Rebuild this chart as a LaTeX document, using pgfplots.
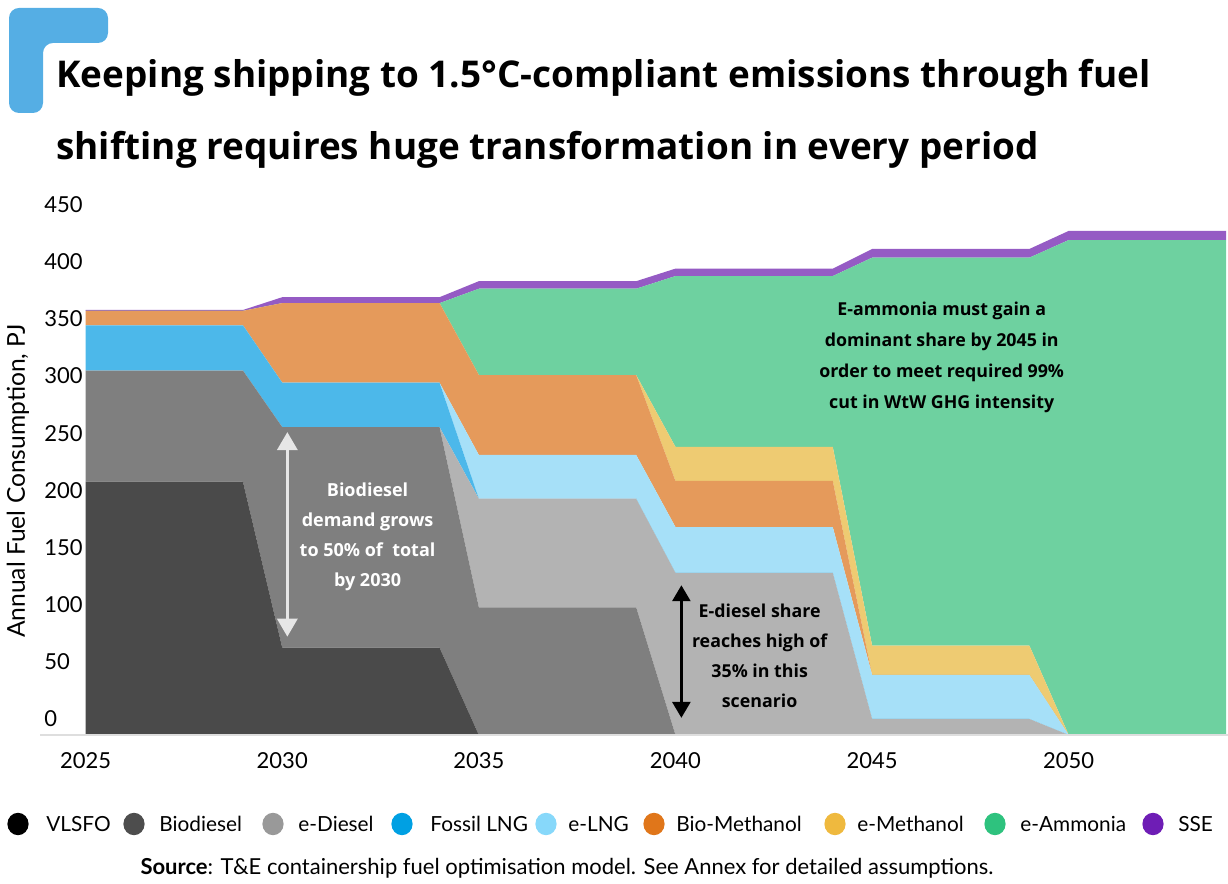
\documentclass[border=0pt]{standalone}
\usepackage{fontspec}
\setmainfont{Lato}
\newfontfamily\titlefont{Open Sans}
\usepackage{pgfplots}
\pgfplotsset{compat=1.18}
\usetikzlibrary{arrows.meta}

% area colours
\definecolor{cVLSFO}{HTML}{4A4A4A}
\definecolor{cBio}{HTML}{7F7F7F}
\definecolor{cEDiesel}{HTML}{B3B3B3}
\definecolor{cFLNG}{HTML}{4CB8EA}
\definecolor{cELNG}{HTML}{A6E0F8}
\definecolor{cBioMeth}{HTML}{E59A5B}
\definecolor{cEMeth}{HTML}{EECB72}
\definecolor{cEAmm}{HTML}{6ED1A0}
\definecolor{cSSE}{HTML}{955BC4}
% legend colours
\definecolor{lVLSFO}{HTML}{000000}
\definecolor{lBio}{HTML}{4D4D4D}
\definecolor{lEDiesel}{HTML}{999999}
\definecolor{lFLNG}{HTML}{00A0E3}
\definecolor{lELNG}{HTML}{87D8FA}
\definecolor{lBioMeth}{HTML}{E0761A}
\definecolor{lEMeth}{HTML}{EFB93E}
\definecolor{lEAmm}{HTML}{2EC27E}
\definecolor{lSSE}{HTML}{6E1DB5}
\definecolor{markblue}{HTML}{55AEE4}
\definecolor{arrowgrey}{HTML}{E6E6E6}

\begin{document}
\begin{tikzpicture}[x=1pt,y=1pt]
\useasboundingbox (0,0) rectangle (614,442);

% corner mark
\fill[markblue, rounded corners=5pt] (4.5,438) -- (54,438) -- (54,420.5) -- (21.5,420.5) -- (21.5,385.5) -- (4.5,385.5) -- cycle;

% title
\node[anchor=base west, inner sep=0pt, font=\titlefont\fontsize{18.45}{21}\selectfont\bfseries] at (28,398.4)
  {Keeping shipping to 1.5°C-compliant emissions through fuel};
\node[anchor=base west, inner sep=0pt, font=\titlefont\fontsize{18.45}{21}\selectfont\bfseries] at (28,362.3)
  {shifting requires huge transformation in every period};

% y label
\node[rotate=90, inner sep=0pt, font=\fontsize{12.3}{14}\selectfont] at (9,201.5) {Annual Fuel Consumption, PJ};

\begin{axis}[
  at={(20pt,74.5pt)}, anchor=south west,
  width=594pt, height=257.2pt, scale only axis,
  xmin=2023.84, xmax=2054.05, ymin=0, ymax=450,
  axis line style={draw=none},
  major tick length=0pt,
  xtick={2025,2030,...,2050},
  ytick={0,50,...,450},
  /pgf/number format/1000 sep={},
  /pgf/number format/assume math mode=true,
  xticklabel style={font=\fontsize{11}{13}\selectfont, anchor=north, inner sep=0pt, yshift=-8.5pt},
  yticklabel style={font=\fontsize{11}{13}\selectfont, anchor=south west, inner sep=0pt, xshift=2pt, yshift=3.8pt},
  stack plots=y,
]
\addplot[fill=cVLSFO, draw=none] coordinates {(2025,221.6) (2029,221.6) (2030,76.4) (2034,76.4) (2035,0) (2039,0) (2040,0) (2044,0) (2045,0) (2049,0) (2050,0) (2054,0)} \closedcycle;
\addplot[fill=cBio, draw=none] coordinates {(2025,97.2) (2029,97.2) (2030,192.9) (2034,192.9) (2035,111.7) (2039,111.7) (2040,0) (2044,0) (2045,0) (2049,0) (2050,0) (2054,0)} \closedcycle;
\addplot[fill=cEDiesel, draw=none] coordinates {(2025,0) (2029,0) (2030,0) (2034,0) (2035,95) (2039,95) (2040,141.8) (2044,141.8) (2045,14) (2049,14) (2050,0) (2054,0)} \closedcycle;
\addplot[fill=cFLNG, draw=none] coordinates {(2025,39.6) (2029,39.6) (2030,38.9) (2034,38.9) (2035,0) (2039,0) (2040,0) (2044,0) (2045,0) (2049,0) (2050,0) (2054,0)} \closedcycle;
\addplot[fill=cELNG, draw=none] coordinates {(2025,0) (2029,0) (2030,0) (2034,0) (2035,38.3) (2039,38.3) (2040,40.1) (2044,40.1) (2045,38.5) (2049,38.5) (2050,0) (2054,0)} \closedcycle;
\addplot[fill=cBioMeth, draw=none] coordinates {(2025,12.6) (2029,12.6) (2030,69.6) (2034,69.6) (2035,69.9) (2039,69.9) (2040,40.3) (2044,40.3) (2045,0) (2049,0) (2050,0) (2054,0)} \closedcycle;
\addplot[fill=cEMeth, draw=none] coordinates {(2025,0) (2029,0) (2030,0) (2034,0) (2035,0) (2039,0) (2040,29.8) (2044,29.8) (2045,25.7) (2049,25.7) (2050,0) (2054,0)} \closedcycle;
\addplot[fill=cEAmm, draw=none] coordinates {(2025,0) (2029,0) (2030,0) (2034,0) (2035,75.5) (2039,75.5) (2040,149.5) (2044,149.5) (2045,339.4) (2049,339.4) (2050,433) (2054,433)} \closedcycle;
\addplot[fill=cSSE, draw=none] coordinates {(2025,0.8) (2029,0.8) (2030,5.2) (2034,5.2) (2035,6.6) (2039,6.6) (2040,6.5) (2044,6.5) (2045,7.6) (2049,7.6) (2050,8) (2054,8)} \closedcycle;

% reference points for the annotations
\coordinate (base0) at (axis cs:2023.84,0);
\coordinate (base1) at (axis cs:2054.05,0);
\coordinate (bioA) at (axis cs:2030.13,265);
\coordinate (bioB) at (axis cs:2030.13,86);
\coordinate (bioT) at (axis cs:2032.17,173);
\coordinate (edA) at (axis cs:2040.15,131);
\coordinate (edB) at (axis cs:2040.15,15);
\coordinate (edT) at (axis cs:2042.14,69);
\coordinate (amT) at (axis cs:2046.77,330);
\end{axis}

% baseline
\draw[black!13, line width=1pt] (base0) -- (base1);

% annotations
\draw[arrowgrey, line width=1.6pt, {Triangle[width=10pt,length=9pt]}-{Triangle[width=10pt,length=9pt]}] (bioA) -- (bioB);
\node[white, align=center, font=\titlefont\fontsize{9}{15}\selectfont\bfseries] at (bioT)
  {Biodiesel\\demand grows\\to 50\% of \ total\\by 2030};
\draw[black, line width=1.4pt, {Triangle[width=9pt,length=8pt]}-{Triangle[width=9pt,length=8pt]}] (edA) -- (edB);
\node[black, align=center, font=\titlefont\fontsize{8.9}{15}\selectfont\bfseries] at (edT)
  {E-diesel share\\reaches high of\\35\% in this\\scenario};
\node[black, align=center, font=\titlefont\fontsize{8.9}{15.5}\selectfont\bfseries] at (amT)
  {E-ammonia must gain a\\dominant share by 2045 in\\order to meet required 99\%\\cut in WtW GHG intensity};

% legend
\foreach \cx/\tx/\col/\lab in {
  9/23/lVLSFO/VLSFO,
  67/79.5/lBio/Biodiesel,
  136.5/149/lEDiesel/e-Diesel,
  201/215/lFLNG/Fossil LNG,
  273/284/lELNG/e-LNG,
  327/338/lBioMeth/Bio-Methanol,
  417.5/428.5/lEMeth/e-Methanol,
  497.5/510/lEAmm/e-Ammonia,
  576.5/589/lSSE/SSE} {
  \fill[\col] (\cx,30) ellipse (5.3pt and 5.6pt);
  \node[anchor=west, inner sep=0pt, font=\fontsize{10.4}{12}\selectfont] at (\tx,30) {\lab};
}

% source
\node[inner sep=0pt, font=\fontsize{11}{13}\selectfont] at (283.5,8)
  {\textbf{Source}: T\&E containership fuel optimisation model. See Annex for detailed assumptions.};
\end{tikzpicture}
\end{document}
